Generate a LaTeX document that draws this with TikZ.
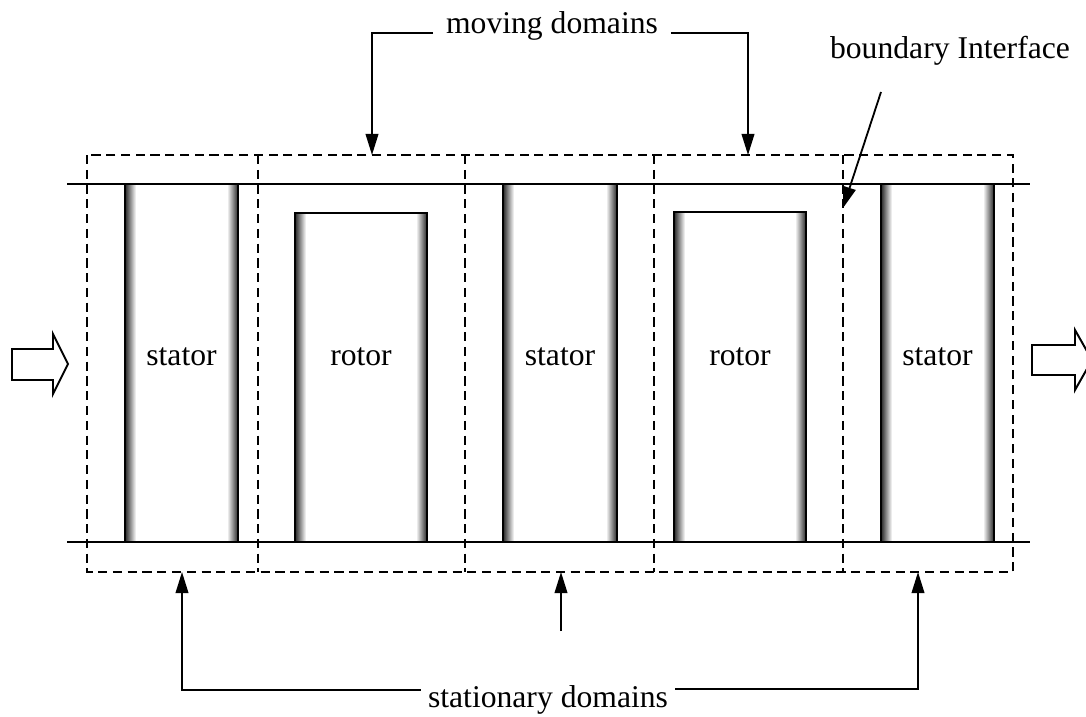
\documentclass[tikz,border=0pt]{standalone}
\usepackage{fontspec}
\setmainfont{Liberation Serif}
\usetikzlibrary{arrows.meta}
\newcommand{\blade}[5]{%
	\shade[left color=black!85,right color=white] (#2,#3) rectangle (#2+11,542);
	\shade[left color=white,right color=black!85] (#4-11,#3) rectangle (#4,542);
	\draw[bladeline] (#2,542) rectangle (#4,#3);
	\node[lbl] (#1) at ({(#2+#4)/2},365) {#5};}

\begin{document}
\begin{tikzpicture}[x=0.025cm,y=-0.025cm,
	lbl/.style={font=\fontsize{22.5}{27}\selectfont,anchor=base,inner sep=0pt},
	caption/.style={lbl,inner xsep=9pt},
	passage/.style={line width=2pt,dash pattern=on 6.5pt off 4pt},
	wall/.style={line width=1.4pt},
	bladeline/.style={line width=2pt},
	ptr/.style={line width=1.3pt,-{Triangle[length=15pt,width=9pt]}},
	flow/.style={line width=1.4pt,line join=miter}]
	\useasboundingbox (0,0) rectangle (1086,717);
	% blades
	\blade{s1}{125}{184}{238}{stator}
	\blade{r1}{295}{213}{427}{rotor}
	\blade{s2}{503}{184}{617}{stator}
	\blade{r2}{674}{212}{806}{rotor}
	\blade{s3}{881}{184}{994}{stator}
	% hub and casing
	\draw[wall] (67,184) -- (1030,184) (67,542) -- (1030,542);
	% domains
	\draw[passage] (87,155) rectangle (1013,572);
	\foreach \x in {258,465,654,843}
		\draw[passage] (\x,155) -- (\x,572);
	% in and out
	\draw[flow] (12,349) -- (53,349) -- (53,334) -- (68,364) -- (53,394) -- (53,380) -- (12,380) -- cycle;
	\draw[flow] (1032,345) -- (1075,345) -- (1075,330) -- (1092,360) -- (1075,390) -- (1075,375) -- (1032,375) -- cycle;
	% labels
	\node[caption] (mov) at (552,33) {moving domains};
	\node[lbl] (bnd) at (950,58) {boundary Interface};
	\node[caption,inner xsep=5pt] (sta) at (548,707) {stationary domains};
	\coordinate (mtipL) at (372,155);
	\coordinate (mtipR) at (748,155);
	\coordinate (bfoot) at (881,92);
	\coordinate (btip) at (843,208);
	\coordinate (stipL) at (182,572);
	\coordinate (stipM) at (561,572);
	\coordinate (sfoot) at (561,631);
	\coordinate (stipR) at (918,572);
	\draw[ptr] (mov.base west) -| (mtipL);
	\draw[ptr] (mov.base east) -| (mtipR);
	\draw[ptr] (bfoot) -- (btip);
	\draw[ptr] ([yshift=0.42cm]sta.base west) -| (stipL);
	\draw[ptr] ([yshift=0.45cm]sta.base east) -| (stipR);
	\draw[ptr] (sfoot) -- (stipM);
\end{tikzpicture}
\end{document}
